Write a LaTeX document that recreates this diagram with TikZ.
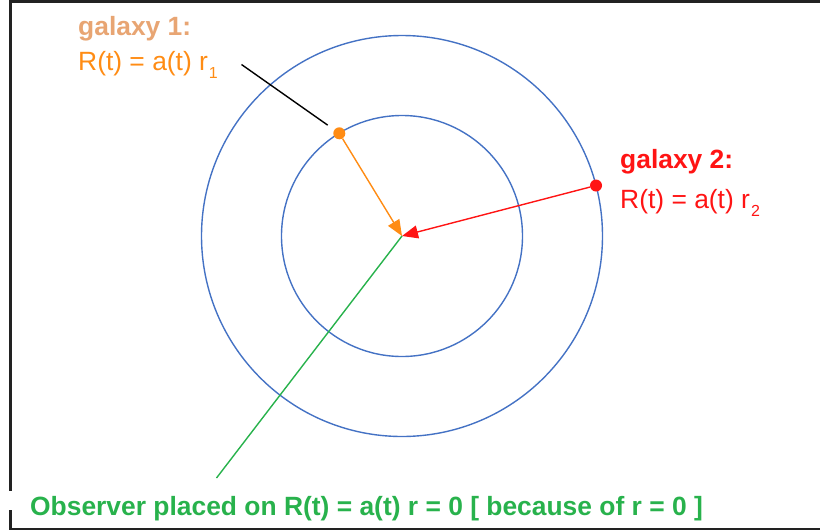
\documentclass[tikz,border=0pt]{standalone}
\usepackage{fontspec}
\setmainfont{Liberation Sans}
\usetikzlibrary{arrows.meta}
\definecolor{ringblue}{RGB}{68,114,196}
\definecolor{gorange}{RGB}{255,140,20}
\definecolor{gtan}{RGB}{232,165,115}
\definecolor{gred}{RGB}{255,20,20}
\definecolor{ggreen}{RGB}{40,178,76}
\definecolor{framegray}{RGB}{34,34,34}
\begin{document}
\begin{tikzpicture}[x=1pt,y=-1pt,
  frameline/.style={draw=framegray,line width=2.2pt},
  ring/.style={draw=ringblue,line width=1.4pt},
  galdot/.style={circle,inner sep=0pt,minimum size=12pt},
  ptr/.style={line width=1.4pt,-{Triangle[length=16pt,width=13pt]}},
  lbl/.style={anchor=base west,inner sep=0pt,font=\fontsize{26.4}{30}\selectfont}]
\useasboundingbox (0,0) rectangle (820,531);
% frame
\draw[frameline] (10.5,0) -- (10.5,491);
\draw[frameline] (10.5,510) -- (10.5,529) -- (820,529);
\draw[frameline] (9.5,1.5) -- (820,1.5);
% rings
\coordinate (O) at (402,236);
\draw[ring] (O) circle[radius=120.5];
\draw[ring] (O) circle[radius=200.5];
% galaxies
\node[galdot,fill=gorange] (g1) at (339.3,133.3) {};
\node[galdot,fill=gred] (g2) at (596,185.5) {};
% connectors
\draw[ptr,draw=gorange,fill=gorange] (g1) -- (O);
\draw[ptr,draw=gred,fill=gred] (g2) -- (O);
\coordinate (p1) at (241.5,64.5);
\draw[black,line width=1.4pt,shorten >=8pt] (p1) -- (g1);
\coordinate (obs) at (216.5,478);
\draw[ggreen,line width=1.4pt] (O) -- (obs);
% labels
\node[lbl,text=gtan] (t1) at (78,35) {\bfseries galaxy 1:};
\node[lbl,text=gorange] (r1) at (78,70.5) {R(t) = a(t) r\kern1pt\raisebox{-8pt}{\fontsize{16}{16}\selectfont 1}};
\node[lbl,text=gred] (t2) at (620,168) {\bfseries galaxy 2:};
\node[lbl,text=gred] (r2) at (620,208) {R(t) = a(t) r\kern1pt\raisebox{-8pt}{\fontsize{16}{16}\selectfont 2}};
\node[lbl,text=ggreen] (ob) at (30,515) {\bfseries Observer placed on R(t) = a(t) r = 0 [ because of r = 0 ]};
\end{tikzpicture}
\end{document}
